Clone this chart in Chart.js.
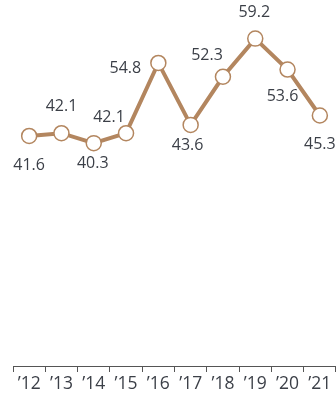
<!DOCTYPE html>
<html>
<head>
<meta charset="utf-8">
<script src="https://cdn.jsdelivr.net/npm/chart.js@4/dist/chart.umd.min.js"></script>
<style>
  html, body { margin: 0; padding: 0; background: #fff; }
  #wrap { width: 336px; height: 397px; }
</style>
</head>
<body>
<div id="wrap"><canvas id="chart"></canvas></div>
<script>
const years = ["’12", "’13", "’14", "’15", "’16", "’17", "’18", "’19", "’20", "’21"];
const values = [41.6, 42.1, 40.3, 42.1, 54.8, 43.6, 52.3, 59.2, 53.6, 45.3];

// where each value label sits relative to its point (dx, dy)
const labelOffsets = [
  [0, 29], [0, -27], [-1, 20], [-17, -16], [-33, 5],
  [-3, 21], [-16, -21], [-1, -26], [-5, 27], [0, 29]
];

const brown = '#b3865f';
const textColor = '#3b3f47';

const valueLabels = {
  id: 'valueLabels',
  afterDatasetsDraw(chart) {
    const ctx = chart.ctx;
    const meta = chart.getDatasetMeta(0);
    ctx.save();
    ctx.font = '16px "Open Sans"';
    ctx.fillStyle = textColor;
    ctx.textAlign = 'center';
    ctx.textBaseline = 'middle';
    meta.data.forEach(function (pt, i) {
      const off = labelOffsets[i];
      ctx.fillText(values[i].toFixed(1), pt.x + off[0], pt.y + off[1]);
    });
    ctx.restore();
  }
};

new Chart(document.getElementById('chart'), {
  type: 'line',
  data: {
    labels: years,
    datasets: [{
      data: values,
      borderColor: brown,
      borderWidth: 4,
      pointRadius: 7.5,
      pointHoverRadius: 7.5,
      pointBackgroundColor: '#fff',
      pointBorderColor: brown,
      pointBorderWidth: 1.5,
      tension: 0,
      clip: false
    }]
  },
  options: {
    responsive: true,
    maintainAspectRatio: false,
    animation: false,
    layout: {
      autoPadding: false,
      padding: { left: 13, right: 0, top: 1, bottom: 0 }
    },
    plugins: {
      legend: { display: false },
      tooltip: { enabled: false }
    },
    scales: {
      x: {
        offset: true,
        grid: {
          offset: true,
          drawOnChartArea: false,
          drawTicks: true,
          tickLength: 6,
          color: '#555'
        },
        border: { color: '#555', width: 1 },
        ticks: {
          color: textColor,
          padding: 2,
          maxRotation: 0,
          autoSkip: false,
          font: { family: 'Open Sans', size: 17.5 }
        }
      },
      y: {
        display: false,
        min: 0,
        max: 66
      }
    }
  },
  plugins: [valueLabels]
});
</script>
</body>
</html>
